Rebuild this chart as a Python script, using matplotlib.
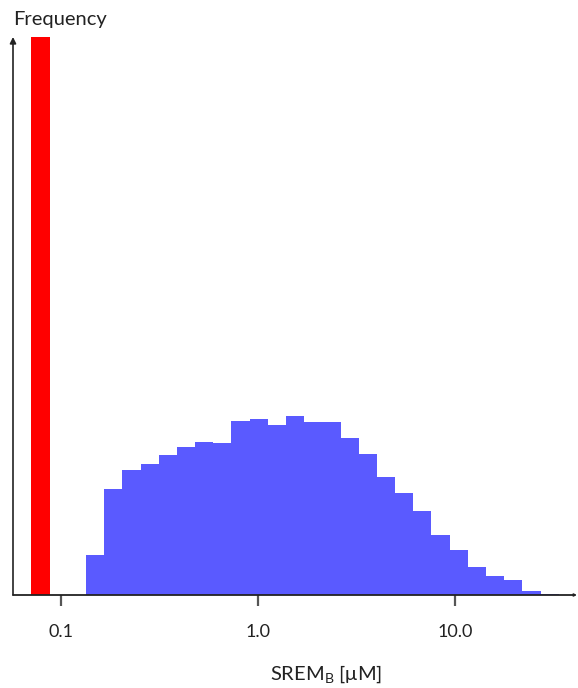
import numpy as np
import matplotlib
matplotlib.use("Agg")
import matplotlib.pyplot as plt

# ---- data ----
blue_counts = [40, 106, 125, 131, 140, 148, 153, 152, 174, 176, 170, 179, 173,
               173, 157, 141, 118, 102, 84, 60, 45, 28, 19, 15, 4, 1]
red_count = 558
first_edge = 0.1339      # lower edge of first blue bin (uM)
bin_step = 0.0923        # bin width in decades
red_bin_offset = -3      # red bin index relative to first blue bin
tick_values = [0.1, 1.0, 10.0]
tick_labels = ["0.1", "1.0", "10.0"]
x_min, x_max = 0.05705, 41.6
y_max = 558

plt.rcParams['font.family'] = ['Lato', 'DejaVu Sans']
plt.rcParams['mathtext.fontset'] = 'custom'
plt.rcParams['mathtext.rm'] = 'Lato'

fig = plt.figure(figsize=(5.78, 6.88), dpi=100)
ax = fig.add_axes([13 / 578, (688 - 595) / 688, (577 - 13) / 578, (595 - 37) / 688])

n = len(blue_counts)
log0 = np.log10(first_edge)
edges = 10 ** (log0 + bin_step * np.arange(n + 1))
ax.bar(edges[:-1], blue_counts, width=np.diff(edges), align='edge',
       color='#5a5aff', edgecolor='none', linewidth=0)

r_lo = 10 ** (log0 + bin_step * red_bin_offset)
r_hi = 10 ** (log0 + bin_step * (red_bin_offset + 1))
ax.bar([r_lo], [red_count], width=[r_hi - r_lo], align='edge',
       color='#ff0000', edgecolor='none', linewidth=0, clip_on=False)

ax.set_xscale('log')
ax.set_xlim(x_min, x_max)
ax.set_ylim(0, y_max)

for s in ['top', 'right', 'left', 'bottom']:
    ax.spines[s].set_visible(False)

# axes with arrows
ax.annotate('', xy=(0, 1.0), xytext=(0, 0), xycoords='axes fraction',
            arrowprops=dict(arrowstyle='-|>', lw=1.2, color='#222222',
                            mutation_scale=9, shrinkA=0, shrinkB=0))
ax.annotate('', xy=(1.0, 0), xytext=(0, 0), xycoords='axes fraction',
            arrowprops=dict(arrowstyle='-|>', lw=1.3, color='#222222',
                            mutation_scale=3, shrinkA=0, shrinkB=0))

ax.set_xticks(tick_values)
ax.set_xticklabels(tick_labels)
ax.xaxis.set_minor_locator(matplotlib.ticker.NullLocator())
ax.set_yticks([])
ax.tick_params(axis='x', direction='out', length=8, width=1.6, color='#555555',
               pad=13, labelsize=13, labelcolor='#222222')

fig.text(13 / 578, 1 - 20 / 688, 'Frequency', ha='left', va='center',
         fontsize=14.5, color='#222222')
fig.text(326 / 578, 1 - 674 / 688, r'SREM$_\mathrm{B}$ [μM]', ha='center',
         va='center', fontsize=14.5, color='#222222')

fig.savefig('out.png', dpi=100)
